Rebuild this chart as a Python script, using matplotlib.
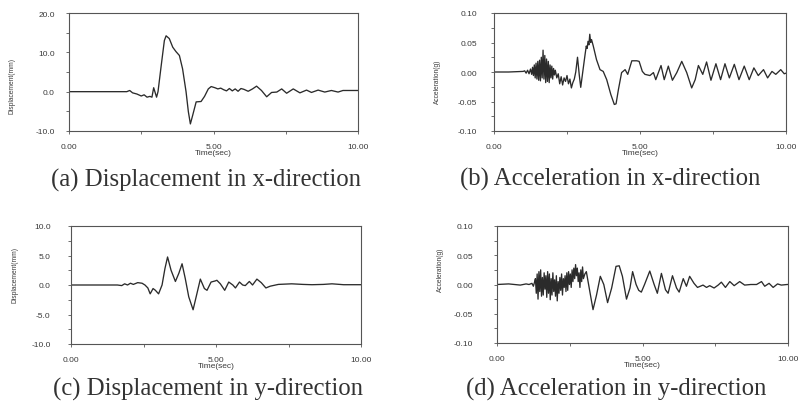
import numpy as np
import matplotlib
matplotlib.use('Agg')
import matplotlib.pyplot as plt

# ---------------- data ----------------
# (a) displacement, x-direction (mm)
t_dx = [0.0, 2.0, 2.1, 2.2, 2.35, 2.5, 2.6, 2.7, 2.8, 2.87,
        2.93, 3.03, 3.08, 3.19, 3.3, 3.36, 3.47, 3.59, 3.7, 3.82,
        3.93, 4.05, 4.13, 4.2, 4.28, 4.4, 4.57, 4.69, 4.82, 4.92,
        5.05, 5.15, 5.25, 5.35, 5.45, 5.55, 5.65, 5.75, 5.85, 5.95,
        6.05, 6.2, 6.35, 6.49, 6.66, 6.84, 7.01, 7.19, 7.36, 7.53,
        7.76, 7.99, 8.22, 8.39, 8.62, 8.85, 9.08, 9.31, 9.48, 9.71,
        10.0]
disp_x = [0.0, 0.0, 0.3, -0.3, -0.6, -1.1, -0.8, -1.4, -1.2, -1.4,
          1.0, -1.4, 0.0, 6.6, 13.0, 14.2, 13.5, 11.3, 10.2, 9.2,
          5.8, 0.0, -5.1, -8.2, -6.0, -2.6, -2.5, -1.2, 0.7, 1.3,
          1.0, 0.7, 0.9, 0.5, 0.2, 0.8, 0.2, 0.7, 0.1, 0.8,
          0.6, 0.1, 0.7, 1.4, 0.3, -1.3, -0.2, -0.1, 0.7, -0.4,
          0.7, -0.3, 0.4, -0.2, 0.4, -0.1, 0.3, -0.1, 0.3, 0.3,
          0.3]

# (b) acceleration, x-direction (g)
t_ax = [0.0, 0.5, 1.0, 1.05, 1.1, 1.15, 1.2, 1.25, 1.29, 1.32,
        1.35, 1.38, 1.41, 1.44, 1.47, 1.50, 1.53, 1.56, 1.59, 1.62,
        1.65, 1.68, 1.71, 1.74, 1.77, 1.80, 1.83, 1.86, 1.89, 1.92,
        1.95, 1.98, 2.01, 2.04, 2.07, 2.10, 2.15, 2.2, 2.25, 2.3,
        2.35, 2.4, 2.45, 2.5, 2.55, 2.6, 2.65, 2.7, 2.75, 2.8,
        2.86, 2.92, 2.97, 3.05, 3.12, 3.16, 3.19, 3.22, 3.25, 3.28,
        3.31, 3.34, 3.4, 3.51, 3.63, 3.74, 3.86, 4.0, 4.12, 4.18,
        4.26, 4.37, 4.49, 4.58, 4.72, 4.89, 4.97, 5.08, 5.17, 5.34,
        5.46, 5.54, 5.72, 5.83, 5.97, 6.11, 6.26, 6.43, 6.6, 6.77,
        6.89, 7.0, 7.15, 7.28, 7.43, 7.6, 7.76, 7.91, 8.06, 8.23,
        8.39, 8.57, 8.74, 8.9, 9.05, 9.23, 9.37, 9.52, 9.65, 9.82,
        9.94, 10.0]
acc_x = [0.000, 0.000, 0.001, 0.002, -0.002, 0.003, -0.003, 0.005, -0.004, 0.008,
         -0.006, 0.012, -0.010, 0.015, -0.012, 0.018, -0.014, 0.020, -0.015, 0.025,
         -0.010, 0.037, -0.012, 0.028, -0.018, 0.022, -0.016, 0.018, -0.018, 0.012,
         -0.010, 0.010, -0.012, 0.006, -0.005, 0.003, -0.010, -0.003, -0.020, -0.008,
         -0.022, -0.010, -0.016, -0.006, -0.020, -0.012, -0.027, -0.018, -0.012, 0.000,
         0.025, -0.005, -0.026, 0.004, 0.030, 0.044, 0.040, 0.052, 0.046, 0.064,
         0.050, 0.055, 0.044, 0.021, 0.004, 0.001, -0.013, -0.038, -0.055, -0.054,
         -0.030, -0.001, 0.004, -0.004, 0.019, 0.019, 0.018, 0.001, -0.004, -0.006,
         -0.001, -0.013, 0.011, -0.013, 0.010, -0.014, -0.001, 0.018, -0.001, -0.027,
         -0.013, 0.011, -0.004, 0.017, -0.014, 0.014, -0.013, 0.014, -0.010, 0.013,
         -0.013, 0.010, -0.013, 0.007, -0.006, 0.004, -0.010, 0.001, -0.004, 0.004,
         -0.003, -0.002]

# (c) displacement, y-direction (mm)
t_dy = [0.0, 1.6, 1.75, 1.85, 1.95, 2.05, 2.15, 2.3, 2.45, 2.55,
        2.65, 2.73, 2.83, 2.91, 3.02, 3.14, 3.24, 3.33, 3.45, 3.6,
        3.72, 3.83, 3.94, 4.06, 4.21, 4.34, 4.46, 4.6, 4.69, 4.83,
        4.98, 5.03, 5.15, 5.3, 5.44, 5.58, 5.67, 5.81, 5.92, 6.01,
        6.15, 6.26, 6.41, 6.56, 6.72, 6.87, 7.15, 7.61, 8.0, 8.31,
        8.7, 9.0, 9.4, 10.0]
disp_y = [0.0, 0.0, -0.1, 0.2, 0.0, 0.3, 0.1, 0.4, 0.3, 0.0,
          -0.5, -1.5, -0.6, -0.9, -1.5, 0.0, 2.8, 4.75, 2.5, 0.6,
          2.0, 3.6, 1.1, -2.0, -4.2, -1.5, 1.0, -0.6, -0.9, 0.5,
          0.7, 0.8, 0.2, -0.9, 0.5, 0.0, -0.5, 0.5, 0.0, -0.1,
          0.6, 0.0, 1.0, 0.4, -0.5, -0.2, 0.1, 0.2, 0.1, 0.05,
          0.1, 0.2, 0.05, 0.05]

# (d) acceleration, y-direction (g)
t_ay = [0.0, 0.4, 0.8, 1.0, 1.1, 1.2, 1.25, 1.29, 1.32, 1.35,
        1.38, 1.41, 1.44, 1.47, 1.50, 1.53, 1.56, 1.59, 1.62, 1.65,
        1.68, 1.71, 1.74, 1.77, 1.80, 1.83, 1.86, 1.89, 1.92, 1.95,
        1.98, 2.01, 2.04, 2.07, 2.10, 2.13, 2.16, 2.19, 2.22, 2.25,
        2.28, 2.31, 2.34, 2.37, 2.40, 2.43, 2.46, 2.49, 2.52, 2.55,
        2.58, 2.61, 2.64, 2.67, 2.70, 2.73, 2.76, 2.79, 2.82, 2.85,
        2.88, 2.91, 2.94, 2.97, 3.02, 3.07, 3.19, 3.3, 3.42, 3.55,
        3.67, 3.8, 3.94, 4.09, 4.2, 4.31, 4.45, 4.57, 4.66, 4.78,
        4.87, 4.96, 5.07, 5.25, 5.4, 5.51, 5.65, 5.79, 5.88, 6.03,
        6.17, 6.26, 6.4, 6.51, 6.62, 6.77, 6.89, 7.08, 7.2, 7.31,
        7.46, 7.6, 7.71, 7.85, 8.0, 8.15, 8.34, 8.51, 8.72, 8.92,
        9.09, 9.2, 9.35, 9.49, 9.64, 9.77, 9.97, 10.0]
acc_y = [0.000, 0.001, -0.001, 0.001, 0.000, 0.002, -0.003, 0.004, 0.010, -0.015,
         0.018, -0.025, 0.022, -0.012, 0.025, -0.020, 0.012, -0.018, 0.020, -0.008,
         0.015, -0.022, 0.022, -0.015, 0.018, -0.026, 0.010, -0.018, 0.020, -0.012,
         0.008, -0.020, 0.015, -0.028, 0.005, -0.015, 0.012, -0.010, 0.018, -0.018,
         0.010, -0.005, 0.015, -0.012, 0.020, -0.010, 0.022, 0.000, 0.018, -0.005,
         0.025, 0.005, 0.028, 0.010, 0.034, 0.015, 0.028, 0.005, 0.020, -0.005,
         0.025, 0.005, 0.030, 0.010, 0.018, 0.022, -0.012, -0.043, -0.018, 0.014,
         0.000, -0.031, -0.006, 0.031, 0.032, 0.014, -0.025, -0.006, 0.022, 0.000,
         -0.010, -0.013, 0.000, 0.023, 0.000, -0.015, 0.019, -0.009, -0.015, 0.015,
         -0.006, -0.013, 0.010, -0.003, 0.014, 0.002, -0.005, -0.001, -0.005, -0.002,
         -0.006, -0.001, 0.004, -0.005, 0.005, -0.002, 0.005, -0.001, 0.000, 0.000,
         0.005, -0.003, 0.002, -0.005, 0.001, -0.001, 0.000, 0.000]

x_ticks = [0, 5, 10]
x_tick_labels = ['0.00', '5.00', '10.00']
dx_ticks = [-10, 0, 10, 20]
dx_tick_labels = ['-10.0', '0.0', '10.0', '20.0']
dy_ticks = [-10, -5, 0, 5, 10]
dy_tick_labels = ['-10.0', '-5.0', '0.0', '5.0', '10.0']
acc_ticks = [-0.10, -0.05, 0.0, 0.05, 0.10]
acc_tick_labels = ['-0.10', '-0.05', '0.00', '0.05', '0.10']
captions = ['(a) Displacement in x-direction', '(b) Acceleration in x-direction',
            '(c) Displacement in y-direction', '(d) Acceleration in y-direction']

line_col = '#2b2b2b'
txt_col = '#3a3a3a'

fig = plt.figure(figsize=(8.01, 4.06), dpi=100)
W, H = 801.0, 406.0


def make_ax(l, r, top, bot):
    return fig.add_axes([l / W, 1 - bot / H, (r - l) / W, (bot - top) / H])


def style_ax(ax, yticks, ylabels, yminor, ylim, ypad):
    ax.set_xlim(0, 10)
    ax.set_ylim(*ylim)
    ax.set_xticks(x_ticks)
    ax.set_xticklabels(x_tick_labels)
    ax.set_xticks([2.5, 7.5], minor=True)
    ax.set_yticks(yticks)
    ax.set_yticklabels(ylabels)
    ax.set_yticks(yminor, minor=True)
    for s in ax.spines.values():
        s.set_linewidth(0.8)
        s.set_color('#555555')
    ax.tick_params(which='both', direction='out', length=2.2, width=0.6,
                   color='#555555', labelsize=6, labelcolor=txt_col)
    ax.tick_params(axis='x', pad=6.5)
    ax.tick_params(axis='y', pad=ypad)
    for lab in ax.get_xticklabels() + ax.get_yticklabels():
        lab.set_family('Liberation Sans')
    ax.set_xlabel('Time(sec)', fontsize=6, family='Liberation Sans',
                  color=txt_col, labelpad=-0.5)


ax_a = make_ax(69, 358, 14, 132)
ax_a.plot(t_dx, disp_x, color=line_col, lw=0.95)
style_ax(ax_a, dx_ticks, dx_tick_labels, [-5, 5, 15], (-10, 20), 8)

ax_b = make_ax(494, 786, 14, 132)
ax_b.plot(t_ax, acc_x, color=line_col, lw=0.95)
style_ax(ax_b, acc_ticks, acc_tick_labels, [-0.075, -0.025, 0.025, 0.075], (-0.1, 0.1), 10)

ax_c = make_ax(71, 361, 227, 345)
ax_c.plot(t_dy, disp_y, color=line_col, lw=0.95)
style_ax(ax_c, dy_ticks, dy_tick_labels, [-7.5, -2.5, 2.5, 7.5], (-10, 10), 12.5)

ax_d = make_ax(497, 788, 227, 344)
ax_d.plot(t_ay, acc_y, color=line_col, lw=0.95)
style_ax(ax_d, acc_ticks, acc_tick_labels, [-0.075, -0.025, 0.025, 0.075], (-0.1, 0.1), 15)

# y-axis labels (small, rotated)
for x, y, s in [(12, 86, 'Displacement(mm)'), (437, 82, 'Acceleration(g)'),
                (15, 275, 'Displacement(mm)'), (440, 270, 'Acceleration(g)')]:
    fig.text(x / W, 1 - y / H, s, rotation=90, ha='center', va='center',
             fontsize=4.8, family=['Liberation Sans Narrow', 'Liberation Sans'],
             color=txt_col)

# captions under each panel
for x, y, s in [(206, 186.5, captions[0]), (610, 186, captions[1]),
                (208, 396, captions[2]), (616, 396, captions[3])]:
    fig.text(x / W, 1 - y / H, s, ha='center', va='baseline', fontsize=17.8,
             family='Liberation Serif', color='#333333')

fig.savefig('out.png', dpi=100)
